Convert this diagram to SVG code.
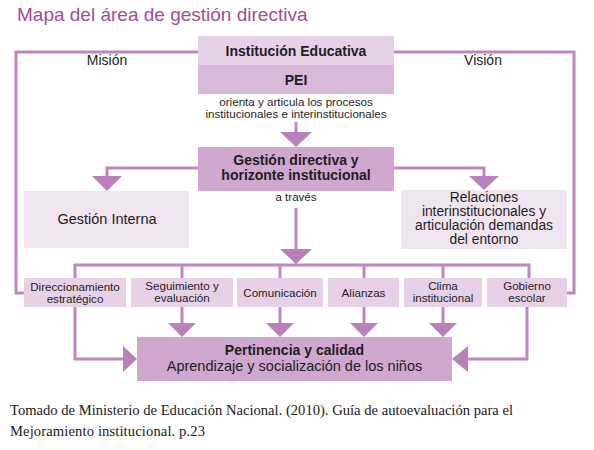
<svg xmlns="http://www.w3.org/2000/svg" width="594" height="450" viewBox="0 0 594 450">
<style>
.ln{fill:none;stroke:#BF86BF;stroke-width:3}
.ah{fill:#BA80BA}
.t{font-family:"Liberation Sans",Arial,sans-serif;fill:#1E1E1E;text-anchor:middle}
.b{font-weight:bold}
.s11{font-size:11.6px}
.s13{font-size:13.8px}
.s14{font-size:14px}
.s145{font-size:14.5px}
.c1{fill:#E6D1E6}
.c2{fill:#D8B9D8}
.c3{fill:#CFA7CF}
.c4{fill:#F1E4F1}
.cap{font-family:"Liberation Serif","Times New Roman",serif;font-size:14.6px;fill:#1A1A1A}
</style>
<rect width="594" height="450" fill="#FFFFFF"/>
<text x="17" y="21" style="font-family:'Liberation Sans',Arial,sans-serif;font-size:19px;fill:#A34C9C">Mapa del área de gestión directiva</text>

<g id="connectors">
<polyline class="ln" points="198,52 16,52 16,293 24,293"/>
<polyline class="ln" points="394,52 574,52 574,293 567,293"/>
<line class="ln" x1="296" y1="122" x2="296" y2="134"/>
<polygon class="ah" points="280,132 312,132 296,147"/>
<polyline class="ln" points="198,168 107,168 107,178"/>
<polygon class="ah" points="92,176 122,176 107,191"/>
<polyline class="ln" points="394,168 484,168 484,178"/>
<polygon class="ah" points="469,176 499,176 484,190"/>
<line class="ln" x1="296" y1="208" x2="296" y2="251"/>
<polygon class="ah" points="280,249 312,249 296,264"/>
<polyline class="ln" points="75,278 75,265 529,265 529,278"/>
<line class="ln" x1="182" y1="265" x2="182" y2="278"/>
<line class="ln" x1="280" y1="265" x2="280" y2="278"/>
<line class="ln" x1="364" y1="265" x2="364" y2="278"/>
<line class="ln" x1="443" y1="265" x2="443" y2="278"/>
<polyline class="ln" points="75,307 75,359 125,359"/>
<polygon class="ah" points="123,346 123,372 137,359"/>
<polyline class="ln" points="527,307 527,359 466,359"/>
<polygon class="ah" points="468,346 468,372 452,359"/>
<line class="ln" x1="182" y1="307" x2="182" y2="325"/>
<polygon class="ah" points="168,323 196,323 182,337"/>
<line class="ln" x1="280" y1="307" x2="280" y2="325"/>
<polygon class="ah" points="266,323 294,323 280,337"/>
<line class="ln" x1="364" y1="307" x2="364" y2="325"/>
<polygon class="ah" points="350,323 378,323 364,337"/>
<line class="ln" x1="443" y1="307" x2="443" y2="325"/>
<polygon class="ah" points="429,323 457,323 443,337"/>
</g>

<text class="t s14" x="107" y="65">Misión</text>
<text class="t s14" x="483" y="65">Visión</text>

<g id="institucion">
<rect class="c1" x="198" y="36" width="196" height="29"/>
<text class="t b s14" x="296" y="56">Institución Educativa</text>
</g>
<g id="pei">
<rect class="c2" x="198" y="65" width="196" height="29"/>
<text class="t b s14" x="296" y="85">PEI</text>
<text class="t s11" x="296" y="106">orienta y articula los procesos</text>
<text class="t s11" x="296" y="118">institucionales e interinstitucionales</text>
</g>
<g id="gestion-directiva">
<rect class="c3" x="198" y="147" width="196" height="44"/>
<text class="t b s14" x="296" y="165">Gestión directiva y</text>
<text class="t b s14" x="296" y="180">horizonte institucional</text>
<text class="t s11" x="296" y="201">a través</text>
</g>
<g id="gestion-interna">
<rect class="c4" x="24" y="191" width="165" height="57"/>
<text class="t s145" x="107" y="224">Gestión Interna</text>
</g>
<g id="relaciones">
<rect class="c4" x="401" y="190" width="166" height="59"/>
<text class="t s13" x="484" y="202">Relaciones</text>
<text class="t s13" x="484" y="216">interinstitucionales y</text>
<text class="t s13" x="484" y="230">articulación demandas</text>
<text class="t s13" x="484" y="244">del entorno</text>
</g>
<g id="direccionamiento">
<rect class="c1" x="24" y="278" width="102" height="29"/>
<text class="t s11" x="75" y="291">Direccionamiento</text>
<text class="t s11" x="75" y="303">estratégico</text>
</g>
<g id="seguimiento">
<rect class="c1" x="131" y="278" width="102" height="29"/>
<text class="t s11" x="182" y="290">Seguimiento y</text>
<text class="t s11" x="182" y="302">evaluación</text>
</g>
<g id="comunicacion">
<rect class="c1" x="237" y="278" width="86" height="29"/>
<text class="t s11" x="280" y="297">Comunicación</text>
</g>
<g id="alianzas">
<rect class="c1" x="328" y="278" width="71" height="29"/>
<text class="t s11" x="363.5" y="297">Alianzas</text>
</g>
<g id="clima">
<rect class="c1" x="404" y="278" width="78" height="29"/>
<text class="t s11" x="443" y="290">Clima</text>
<text class="t s11" x="443" y="302">institucional</text>
</g>
<g id="gobierno">
<rect class="c1" x="487" y="278" width="80" height="29"/>
<text class="t s11" x="527" y="290">Gobierno</text>
<text class="t s11" x="527" y="302">escolar</text>
</g>
<g id="pertinencia">
<rect class="c3" x="137" y="337" width="315" height="44"/>
<text class="t b s14" x="294.5" y="355">Pertinencia y calidad</text>
<text class="t s145" x="294.5" y="371">Aprendizaje y socialización de los niños</text>
</g>

<text class="cap" x="10" y="415" textLength="503" lengthAdjust="spacing">Tomado de Ministerio de Educación Nacional. (2010). Guía de autoevaluación para el</text>
<text class="cap" x="10" y="436" textLength="195" lengthAdjust="spacing">Mejoramiento institucional. p.23</text>
</svg>
